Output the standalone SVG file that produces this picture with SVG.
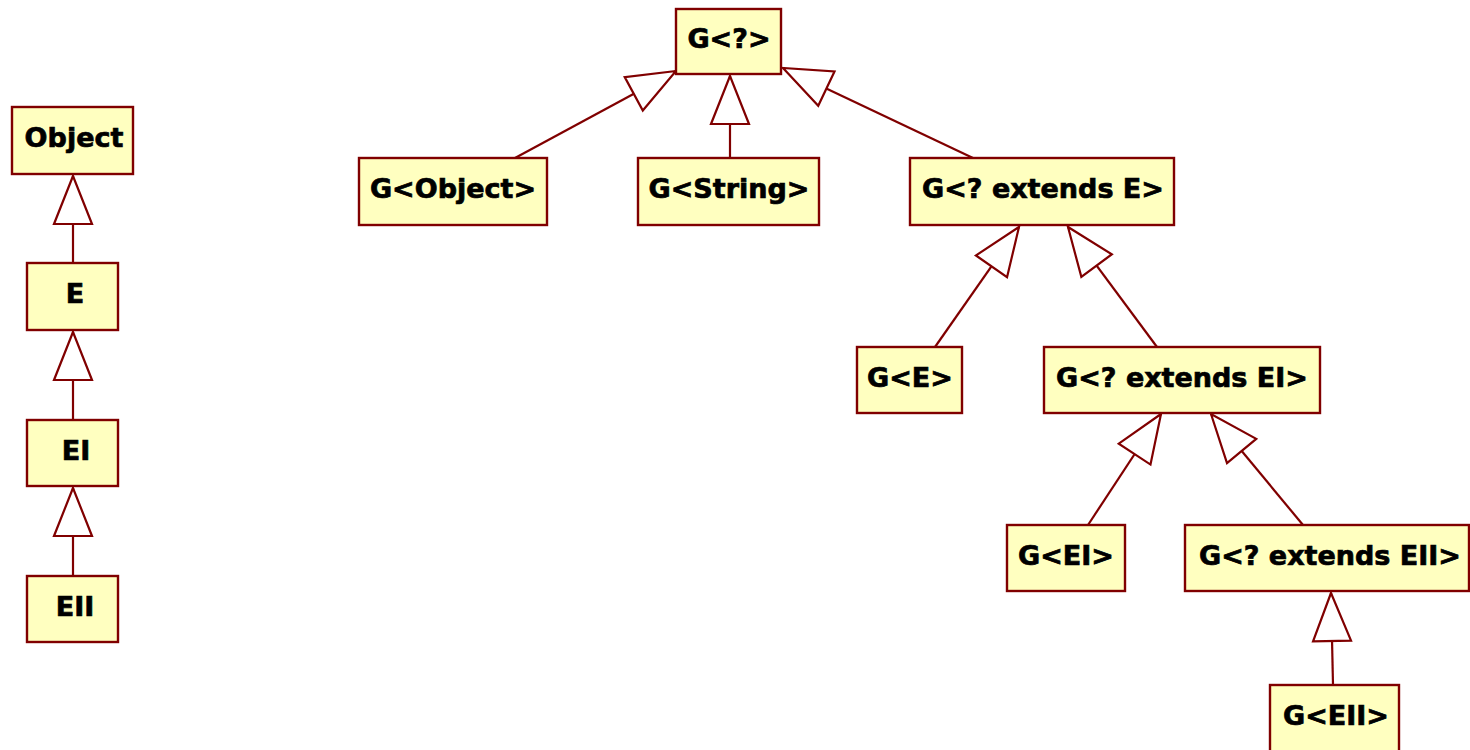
<svg xmlns="http://www.w3.org/2000/svg" width="1470" height="750" viewBox="0 0 1470 750">
<style>
.box{fill:#FFFFC0;stroke:#800000;stroke-width:2.4}
.lbl{font-family:"DejaVu Sans",Verdana,sans-serif;font-weight:bold;font-size:27px;fill:#000;stroke:#000;stroke-width:0.7;text-anchor:middle}
.conn{stroke:#800000;stroke-width:2.2;fill:none;marker-end:url(#tri)}
</style>
<defs>
<marker id="tri" markerUnits="userSpaceOnUse" markerWidth="60" markerHeight="50" viewBox="-50 -25 60 50" refX="0" refY="0" orient="auto" overflow="visible">
<path d="M0,0 L-48,-19 L-48,19 Z" fill="#fff" stroke="#800000" stroke-width="2.2"/>
</marker>
</defs>
<rect width="1470" height="750" fill="#fff"/>
<g id="connectors">
<line class="conn" x1="73" y1="263" x2="73" y2="176"/>
<line class="conn" x1="73" y1="420" x2="73" y2="332"/>
<line class="conn" x1="73" y1="576" x2="73" y2="488"/>
<line class="conn" x1="515" y1="158" x2="676" y2="71"/>
<line class="conn" x1="730" y1="158" x2="730" y2="76"/>
<line class="conn" x1="973" y1="158" x2="783" y2="68"/>
<line class="conn" x1="935" y1="347" x2="1019" y2="227"/>
<line class="conn" x1="1157" y1="347" x2="1068" y2="227"/>
<line class="conn" x1="1088" y1="525" x2="1161" y2="414"/>
<line class="conn" x1="1303" y1="525" x2="1211" y2="414"/>
<line class="conn" x1="1333" y1="685" x2="1331" y2="593"/>
</g>
<g id="n-object"><rect class="box" x="12" y="107" width="121" height="67"/><text class="lbl" x="74" y="147">Object</text></g>
<g id="n-e"><rect class="box" x="27" y="263" width="91" height="67"/><text class="lbl" x="75" y="303">E</text></g>
<g id="n-ei"><rect class="box" x="27" y="420" width="91" height="66"/><text class="lbl" x="76" y="460">EI</text></g>
<g id="n-eii"><rect class="box" x="27" y="576" width="91" height="66"/><text class="lbl" x="75" y="616">EII</text></g>
<g id="n-gq"><rect class="box" x="676" y="9" width="105" height="65"/><text class="lbl" x="729" y="48">G&lt;?&gt;</text></g>
<g id="n-gobject"><rect class="box" x="359" y="158" width="188" height="67"/><text class="lbl" x="453" y="198">G&lt;Object&gt;</text></g>
<g id="n-gstring"><rect class="box" x="638" y="158" width="181" height="67"/><text class="lbl" x="729" y="198">G&lt;String&gt;</text></g>
<g id="n-gexte"><rect class="box" x="910" y="158" width="264" height="67"/><text class="lbl" x="1043" y="198">G&lt;? extends E&gt;</text></g>
<g id="n-ge"><rect class="box" x="857" y="347" width="105" height="66"/><text class="lbl" x="910" y="387">G&lt;E&gt;</text></g>
<g id="n-gextei"><rect class="box" x="1044" y="347" width="276" height="66"/><text class="lbl" x="1182" y="387">G&lt;? extends EI&gt;</text></g>
<g id="n-gei"><rect class="box" x="1007" y="525" width="118" height="66"/><text class="lbl" x="1066" y="565">G&lt;EI&gt;</text></g>
<g id="n-gexteii"><rect class="box" x="1185" y="525" width="284" height="66"/><text class="lbl" x="1330" y="565">G&lt;? extends EII&gt;</text></g>
<g id="n-geii"><rect class="box" x="1270" y="685" width="129" height="70"/><text class="lbl" x="1336" y="725">G&lt;EII&gt;</text></g>
</svg>
